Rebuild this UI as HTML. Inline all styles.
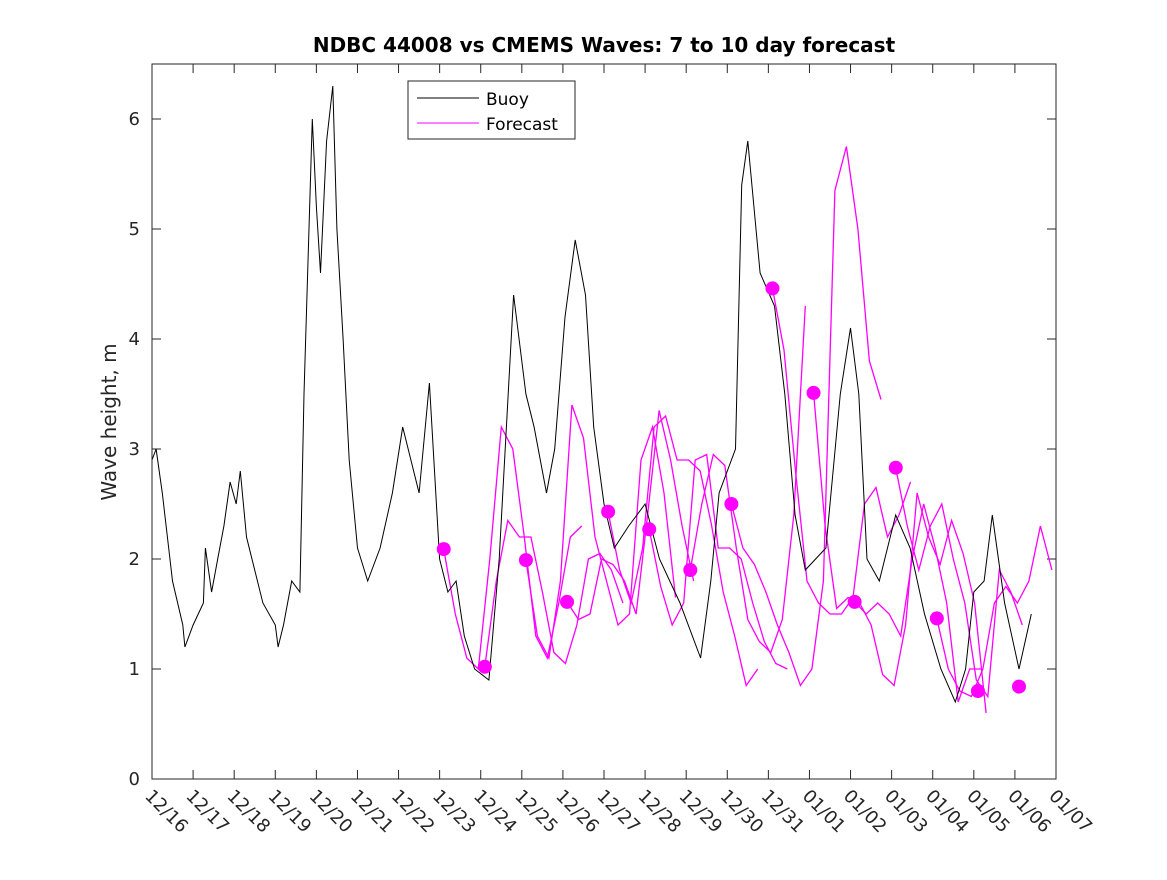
<!DOCTYPE html>
<html><head><meta charset="utf-8"><style>
body{margin:0;background:#fff;}
svg text{font-family:"DejaVu Sans","Liberation Sans",sans-serif;fill:#262626;}
</style></head><body>
<svg id="chart" width="1167" height="875" xmlns="http://www.w3.org/2000/svg">
<rect width="1167" height="875" fill="#fff"/>
<text x="604" y="52" text-anchor="middle" font-size="20" font-weight="bold" style="fill:#000">NDBC 44008 vs CMEMS Waves: 7 to 10 day forecast</text>
<text transform="translate(116,422) rotate(-90)" text-anchor="middle" font-size="20">Wave height, m</text>
<g id="axes"></g>
<g id="series"></g>
<rect x="152" y="64" width="904" height="715" fill="none" stroke="#262626" stroke-width="1"/>
<g>
<rect x="408" y="81" width="167" height="58" fill="#fff" stroke="#262626"/>
<line x1="417" y1="98" x2="479" y2="98" stroke="#000"/>
<text x="486" y="105" font-size="17" style="fill:#000">Buoy</text>
<line x1="417" y1="123" x2="479" y2="123" stroke="#f0f"/>
<text x="486" y="130" font-size="17" style="fill:#000">Forecast</text>
</g>
</svg>
<script>
const tickDays=["12/16","12/17","12/18","12/19","12/20","12/21","12/22","12/23","12/24","12/25","12/26","12/27","12/28","12/29","12/30","12/31","01/01","01/02","01/03","01/04","01/05","01/06","01/07"];
const yTicks=[0,1,2,3,4,5,6];
const buoyDays=[0,0.1,0.25,0.5,0.75,0.8,1.0,1.25,1.3,1.45,1.6,1.75,1.9,2.05,2.15,2.3,2.5,2.7,3.0,3.07,3.2,3.4,3.6,3.7,3.9,4.0,4.1,4.25,4.4,4.5,4.65,4.8,5.0,5.25,5.55,5.85,6.1,6.3,6.5,6.75,7.0,7.2,7.4,7.6,7.85,8.2,8.45,8.8,9.1,9.3,9.6,9.8,10.05,10.3,10.55,10.75,11.0,11.25,11.6,12.0,12.35,12.85,13.35,13.6,13.8,14.2,14.35,14.5,14.8,15.15,15.4,15.65,15.9,16.4,16.75,17.0,17.2,17.4,17.7,18.1,18.45,18.8,19.2,19.55,19.8,20.0,20.25,20.45,20.75,21.1,21.4];
const buoyValues=[2.9,3.0,2.6,1.8,1.4,1.2,1.4,1.6,2.1,1.7,2.0,2.3,2.7,2.5,2.8,2.2,1.9,1.6,1.4,1.2,1.4,1.8,1.7,3.5,6.0,5.2,4.6,5.8,6.3,5.0,4.0,2.9,2.1,1.8,2.1,2.6,3.2,2.9,2.6,3.6,2.0,1.7,1.8,1.3,1.0,0.9,2.0,4.4,3.5,3.2,2.6,3.0,4.2,4.9,4.4,3.2,2.5,2.1,2.3,2.5,2.0,1.6,1.1,1.8,2.6,3.0,5.4,5.8,4.6,4.3,3.5,2.4,1.9,2.1,3.5,4.1,3.5,2.0,1.8,2.4,2.1,1.5,1.0,0.7,1.0,1.7,1.8,2.4,1.6,1.0,1.5];
const dotDays=[7.1,8.1,9.1,10.1,11.1,12.1,13.1,14.1,15.1,16.1,17.1,18.1,19.1,20.1,21.1];
const dotValues=[2.09,1.02,1.99,1.61,2.43,2.27,1.90,2.50,4.46,3.51,1.61,2.83,1.46,0.80,0.84];
const fcStarts=[7.1,8.1,9.1,10.1,11.1,12.1,13.1,14.1,15.1,16.1,17.1,18.1,19.1];
const fcValues=[
[2.09,1.5,1.1,1.0,2.0,3.2,3.0,2.2,1.3,1.1,1.6,2.2,2.3],
[1.02,1.8,2.35,2.2,2.2,1.7,1.15,1.05,1.4,2.0,2.05,1.9,1.6],
[1.99,1.3,1.1,1.8,3.4,3.1,2.2,1.8,1.4,1.5,2.9,3.2,2.6,1.65],
[1.61,1.45,1.5,2.0,1.95,1.8,1.5,2.4,3.35,2.9,2.3,1.8],
[2.43,1.9,1.6,2.1,3.2,3.3,2.9,2.9,2.8,2.3,1.7,1.3,0.85,1.0],
[2.27,1.75,1.4,1.6,2.9,2.95,2.1,2.1,2.0,1.6,1.25,1.05,1.0],
[1.90,2.5,2.95,2.85,2.1,1.45,1.25,1.15,1.45,2.4,4.3],
[2.50,2.1,1.95,1.7,1.4,1.15,0.85,1.0,1.8,5.35,5.75,5.0,3.8,3.45],
[4.46,3.9,2.8,1.8,1.6,1.5,1.5,1.65,2.5,2.65,2.2,2.4,2.7],
[3.51,2.3,1.55,1.65,1.6,1.4,0.95,0.85,1.4,2.6,2.2,1.95,2.35,2.05,1.6,0.6],
[1.61,1.5,1.6,1.5,1.3,2.0,2.5,2.1,1.6,0.7,1.0,1.0],
[2.83,2.3,1.9,2.3,2.5,2.0,1.6,0.9,0.75,1.9,1.7,1.4],
[1.46,1.0,0.8,0.75,1.0,1.6,1.75,1.6,1.8,2.3,1.9]];
const fcStep=0.28;
const X0=152,X1=1056,DAYS=22,Y0=779,YPX=110;
const xs=d=>X0+(X1-X0)*d/DAYS, ys=v=>Y0-v*YPX;
const NS="http://www.w3.org/2000/svg";
const ax=document.getElementById('axes'), se=document.getElementById('series');
function mk(tag,attrs,parent){const e=document.createElementNS(NS,tag);for(const k in attrs)e.setAttribute(k,attrs[k]);parent.appendChild(e);return e;}
tickDays.forEach((t,i)=>{const x=xs(i);
 const l=mk('line',{x1:x,x2:x,y1:Y0,y2:Y0-9,stroke:'#262626'},ax);
 
 
 mk('line',{x1:x,x2:x,y1:64,y2:73,stroke:'#262626'},ax);
 const tx=mk('text',{x:x-8,y:Y0+18,'font-size':18,transform:`rotate(45 ${x-8} ${Y0+18})`},ax);
 tx.textContent=t;
 
 
});
yTicks.forEach(v=>{const y=ys(v);
 mk('line',{x1:X0,x2:X0+9,y1:y,y2:y,stroke:'#262626'},ax);
 mk('line',{x1:X1-9,x2:X1,y1:y,y2:y,stroke:'#262626'},ax);
 const tx=mk('text',{x:X0-12,y:y+6,'font-size':18,'text-anchor':'end'},ax);
 tx.textContent=v;
 
 
});
fcValues.forEach((arr,i)=>{
 const pts=arr.map((v,j)=>xs(fcStarts[i]+j*fcStep).toFixed(1)+','+ys(v).toFixed(1)).join(' ');
 const p=mk('polyline',{points:pts,fill:'none',stroke:'#f0f','stroke-width':1.3},se);
 
 
});
const bp=mk('polyline',{points:buoyDays.map((d,i)=>xs(d).toFixed(1)+','+ys(buoyValues[i]).toFixed(1)).join(' '),fill:'none',stroke:'#000','stroke-width':1},se);


dotDays.forEach((d,i)=>{
 const c=mk('circle',{cx:xs(d),cy:ys(dotValues[i]),r:7,fill:'#f0f'},se);
 
 
});
</script>
</body></html>
